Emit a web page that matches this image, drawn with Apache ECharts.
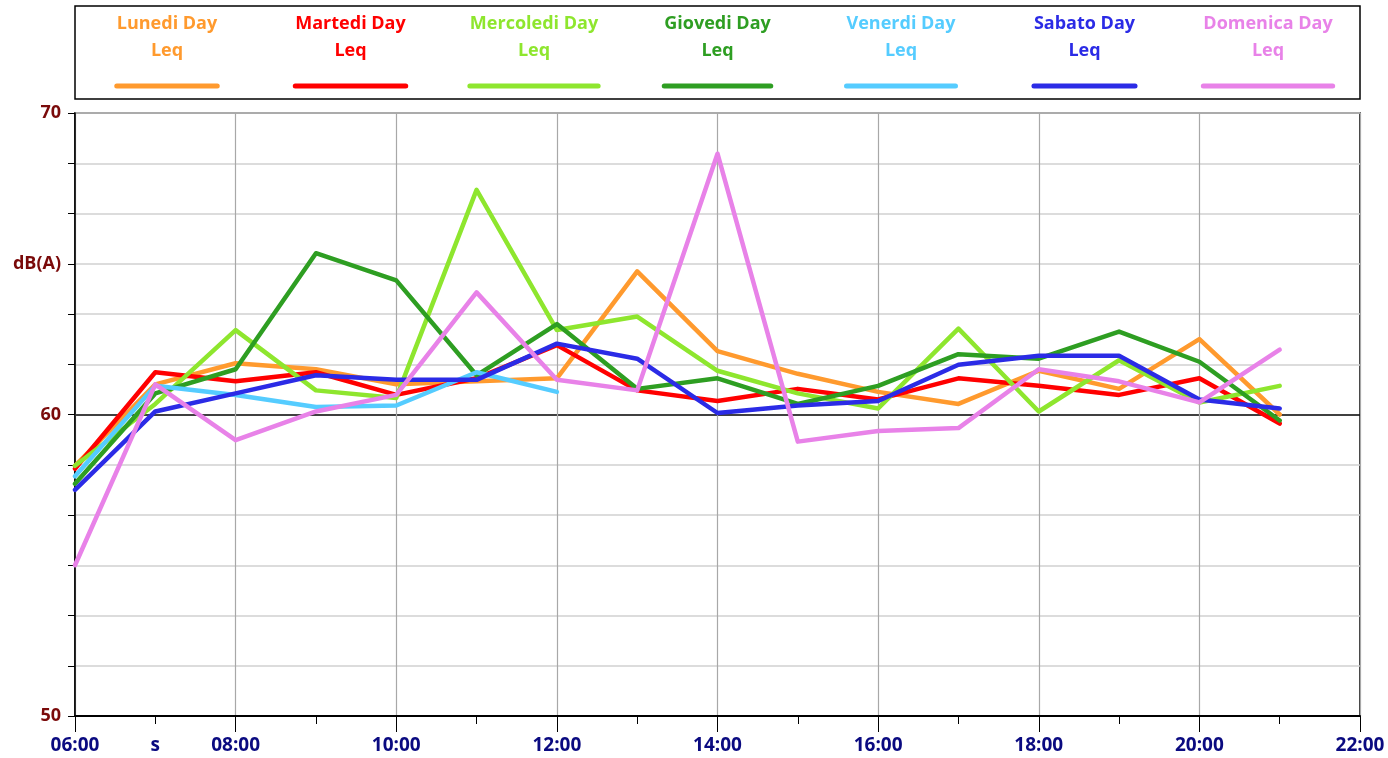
<!DOCTYPE html>
<html>
<head>
<meta charset="utf-8">
<script src="https://cdn.jsdelivr.net/npm/echarts@6/dist/echarts.min.js"></script>
<style>
html,body{margin:0;padding:0;background:#fff;}
#chart{width:1388px;height:758px;}
</style>
</head>
<body>
<div id="chart"></div>
<script>
// ---- data ----
var hours = [6,7,8,9,10,11,12,13,14,15,16,17,18,19,20,21];
var seriesNames = ['Lunedi Day\nLeq','Martedi Day\nLeq','Mercoledi Day\nLeq','Giovedi Day\nLeq','Venerdi Day\nLeq','Sabato Day\nLeq','Domenica Day\nLeq'];
var lunedi    = [58.3,61.0,61.7,61.5,61.0,61.1,61.2,64.75,62.1,61.35,60.75,60.35,61.45,60.85,62.5,60.0];
var martedi   = [58.2,61.4,61.1,61.4,60.65,61.2,62.3,60.8,60.45,60.85,60.5,61.2,60.95,60.65,61.2,59.7];
var mercoledi = [58.3,60.35,62.8,60.8,60.55,67.45,62.8,63.25,61.45,60.7,60.2,62.85,60.1,61.8,60.4,60.95];
var giovedi   = [57.7,60.7,61.5,65.35,64.45,61.3,63.0,60.85,61.2,60.35,60.95,62.0,61.85,62.75,61.75,59.8];
var venerdi   = [57.95,60.95,60.65,60.25,60.3,61.4,60.75];
var sabato    = [57.5,60.1,60.7,61.3,61.15,61.15,62.35,61.85,60.05,60.3,60.45,61.65,61.95,61.95,60.5,60.2];
var domenica  = [55.0,61.0,59.15,60.1,60.65,64.05,61.15,60.8,68.65,59.1,59.45,59.55,61.5,61.1,60.4,62.15];
var allValues = [lunedi, martedi, mercoledi, giovedi, venerdi, sabato, domenica];
var colors = ['#FF9A2E','#FF0000','#8EE62E','#2E9E22','#55CCFF','#2B2BE6','#E882E8'];
var yTickLabels = {50:'50', 60:'60', 65:'dB(A)', 70:'70'};

var FONT = '"Open Sans", sans-serif';

function hourLabel(v){
  if (v === 7) return 's';
  if (v % 2 !== 0) return '';
  return (v < 10 ? '0' : '') + v + ':00';
}

var series = allValues.map(function(vals, i){
  return {
    name: seriesNames[i],
    type: 'line',
    xAxisIndex: 0,
    data: vals.map(function(v, k){ return [hours[k], v]; }),
    showSymbol: false,
    symbol: 'none',
    lineStyle: {color: colors[i], width: 4.5, join: 'round', cap: 'round'},
    itemStyle: {color: colors[i]},
    z: 3 + i
  };
});

// legend drawn as graphic (text above sample line)
var measureCtx = document.createElement('canvas').getContext('2d');
measureCtx.font = 'bold 18px ' + FONT;
var legendGraphics = [{
  type: 'rect', shape: {x: 75, y: 6, width: 1285, height: 93},
  style: {fill: '#fff', stroke: '#000', lineWidth: 1.5}, z: 1
}];
seriesNames.forEach(function(name, i){
  var cx = 167 + i * 183.5;
  var first = name.split('\n')[0];
  var w = measureCtx.measureText(first).width;
  legendGraphics.push({
    type: 'text', x: cx, y: 10,
    style: {text: name, fill: colors[i], font: 'bold 18px ' + FONT, align: 'center', verticalAlign: 'top', lineHeight: 27},
    z: 2
  });
  legendGraphics.push({
    type: 'line', shape: {x1: cx - w/2, y1: 86, x2: cx + w/2, y2: 86},
    style: {stroke: colors[i], lineWidth: 5, lineCap: 'round'}, z: 2
  });
});

var chart = echarts.init(document.getElementById('chart'), null, {renderer: 'canvas'});
chart.setOption({
  animation: false,
  backgroundColor: '#fff',
  grid: {left: 75, right: 28, top: 113, bottom: 42, show: true, borderColor: '#000', borderWidth: 1.5, containLabel: false},
  graphic: legendGraphics,
  xAxis: [{
    type: 'value', min: 6, max: 22, interval: 1,
    axisLine: {show: true, lineStyle: {color: '#000', width: 2}},
    axisTick: {show: true, length: 8, lineStyle: {color: '#000', width: 1}},
    axisLabel: {formatter: hourLabel, color: '#0A0A80', fontFamily: FONT, fontWeight: 'bold', fontSize: 19, margin: 20, showMinLabel: true, showMaxLabel: true},
    splitLine: {show: false}
  }, {
    type: 'value', min: 6, max: 22, interval: 2, position: 'bottom',
    axisLine: {show: false},
    axisTick: {show: true, length: 16, lineStyle: {color: '#000', width: 1}},
    axisLabel: {show: false},
    splitLine: {show: true, lineStyle: {color: '#a8a8a8', width: 1.2}}
  }],
  yAxis: {
    type: 'value', min: 50, max: 70, interval: 5/3,
    axisLine: {show: true, lineStyle: {color: '#000', width: 1.5}},
    axisTick: {show: true, length: 7, lineStyle: {color: '#000', width: 1}},
    axisLabel: {
      formatter: function(v){
        for (var k in yTickLabels) { if (Math.abs(v - k) < 0.01) return yTickLabels[k]; }
        return '';
      },
      color: '#7A0A0A', fontFamily: FONT, fontWeight: 'bold', fontSize: 18, margin: 14
    },
    splitLine: {show: true, lineStyle: {color: ['#d0d0d0','#d0d0d0','#d0d0d0','#d0d0d0','#d0d0d0','#d0d0d0','#000','#d0d0d0','#d0d0d0','#d0d0d0','#d0d0d0','#d0d0d0','#d0d0d0'], width: 1.5}}
  },
  series: series
});
</script>
</body>
</html>
